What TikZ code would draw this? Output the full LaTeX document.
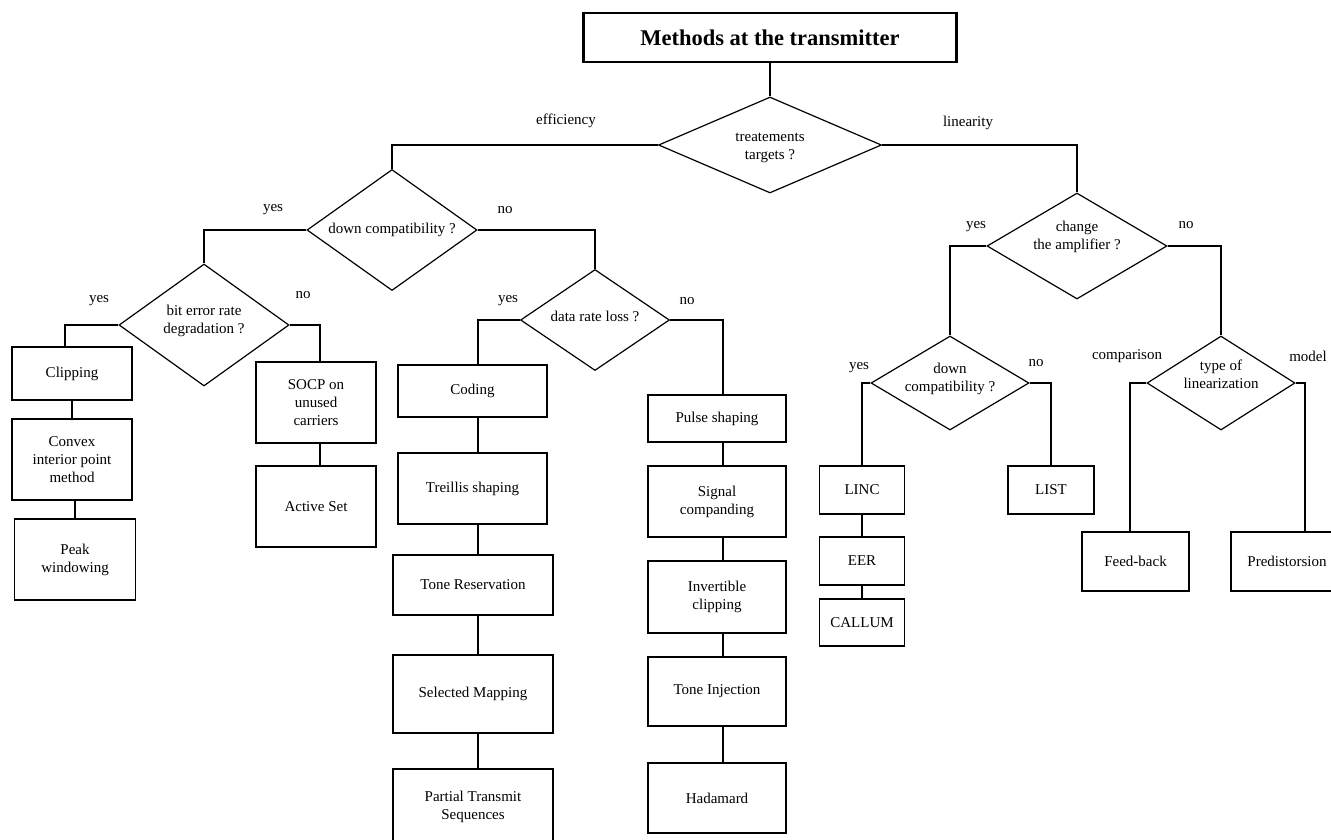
\documentclass[tikz,border=0pt]{standalone}
\usepackage{fontspec}
\setmainfont{Liberation Serif}
\usetikzlibrary{shapes.geometric}
\tikzset{
    mynode/.style={font=\fontsize{15}{18}\selectfont,align=center},
    boxnode/.style={mynode,draw,line width=1.2pt,rectangle,inner sep=0pt},
    decnode/.style={draw,line width=1.2pt,diamond,inner sep=0pt},
    titlenode/.style={draw,line width=2.6pt,inner sep=0pt,font=\fontsize{22.5}{27}\selectfont\bfseries},
    link/.style={line width=1.2pt}
}

\begin{document}
\begin{tikzpicture}[x=1pt,y=-1pt]
        \useasboundingbox (0,0) rectangle (1331,839);
        \clip (0,0) rectangle (1331,839);

        % title and first question
        \node[titlenode,minimum width=373,minimum height=49] (title) at (770,37.5) {Methods at the transmitter};
        \node[decnode,minimum width=223,minimum height=96,label={[mynode,yshift=-3]center:{treatements\\targets ?}}] (dtarget) at (770,145) {};
        \node[mynode] (l-eff) at (566,121) {efficiency};
        \node[mynode] (l-lin) at (968,123) {linearity};

        % efficiency side
        \node[decnode,minimum width=170,minimum height=121,label={[mynode]center:{down compatibility ?}}] (dcompat) at (392,230) {};
        \node[mynode] (l-cy) at (273,210) {yes};
        \node[mynode] (l-cn) at (505,210) {no};

        \node[decnode,minimum width=170,minimum height=122,label={[mynode,yshift=4]center:{bit error rate\\degradation ?}}] (dber) at (204,325) {};
        \node[mynode] (l-by) at (99,301) {yes};
        \node[mynode] (l-bn) at (303,295) {no};

        \node[boxnode,minimum width=120,minimum height=53] (clip) at (72,373.5) {Clipping};
        \node[boxnode,minimum width=120,minimum height=81] (convex) at (72,459.5) {Convex\\interior point\\method};
        \node[boxnode,minimum width=121,minimum height=81] (peak) at (75,559.5) {Peak\\windowing};
        \node[boxnode,minimum width=120,minimum height=81] (socp) at (316,402.5) {SOCP on\\unused\\carriers};
        \node[boxnode,minimum width=120,minimum height=81] (active) at (316,506.5) {Active Set};

        \node[decnode,minimum width=149,minimum height=101,label={[mynode,yshift=4]center:{data rate loss ?}}] (drl) at (595,320) {};
        \node[mynode] (l-dy) at (508,301) {yes};
        \node[mynode] (l-dn) at (687,301) {no};

        \coordinate (yspine) at (478,0);
        \node[boxnode,minimum width=149,minimum height=52] (coding) at (472.5,391) {Coding};
        \node[boxnode,minimum width=149,minimum height=71] (treillis) at (472.5,488.5) {Treillis shaping};
        \node[boxnode,minimum width=160,minimum height=60] (toneres) at (473,585) {Tone Reservation};
        \node[boxnode,minimum width=160,minimum height=78] (selmap) at (473,694) {Selected Mapping};
        \node[boxnode,minimum width=160,minimum height=76] (pts) at (473,807) {Partial Transmit\\Sequences};

        \coordinate (nspine) at (723,0);
        \node[boxnode,minimum width=138,minimum height=47] (pulse) at (717,418.5) {Pulse shaping};
        \node[boxnode,minimum width=138,minimum height=71] (compand) at (717,501.5) {Signal\\companding};
        \node[boxnode,minimum width=138,minimum height=72] (invclip) at (717,597) {Invertible\\clipping};
        \node[boxnode,minimum width=138,minimum height=69] (toneinj) at (717,691.5) {Tone Injection};
        \node[boxnode,minimum width=138,minimum height=70] (hadamard) at (717,798) {Hadamard};

        % linearity side
        \node[decnode,minimum width=180,minimum height=106,label={[mynode,yshift=9]center:{change\\the amplifier ?}}] (damp) at (1077,246) {};
        \node[mynode] (l-ay) at (976,227) {yes};
        \node[mynode] (l-an) at (1186,225) {no};

        \node[decnode,minimum width=158,minimum height=94,label={[mynode,yshift=4]center:{down\\compatibility ?}}] (dcompat2) at (950,383) {};
        \node[mynode] (l-ey) at (859,368) {yes};
        \node[mynode] (l-en) at (1036,363) {no};

        \node[boxnode,minimum width=85,minimum height=48] (linc) at (862,490) {LINC};
        \node[boxnode,minimum width=85,minimum height=48] (eer) at (862,561) {EER};
        \node[boxnode,minimum width=85,minimum height=47] (callum) at (862,622.5) {CALLUM};
        \node[boxnode,minimum width=86,minimum height=48] (list) at (1051,490) {LIST};

        \node[decnode,minimum width=148,minimum height=94,label={[mynode,yshift=9]center:{type of\\linearization}}] (dlin) at (1221,383) {};
        \node[mynode] (l-comp) at (1127,356) {comparison};
        \node[mynode] (l-mod) at (1308,356) {model};

        \node[boxnode,minimum width=107,minimum height=59] (feedback) at (1135.5,561.5) {Feed-back};
        \node[boxnode,minimum width=112,minimum height=59] (predis) at (1287,561.5) {Predistorsion};

        % links
        \draw[link] (title.south) -- (dtarget.north);
        \draw[link] (dtarget.west) -| (dcompat.north);
        \draw[link] (dtarget.east) -| (damp.north);

        \draw[link] (dcompat.west) -| (dber.north);
        \draw[link] (dcompat.east) -| (drl.north);
        \draw[link] (dber.west) -| ([xshift=-7]clip.north);
        \draw[link] (dber.east) -| ([xshift=4]socp.north);
        \draw[link] (clip.south) -- (convex.north);
        \draw[link] (convex.south -| peak) -- (peak.north);
        \draw[link] ([xshift=4]socp.south) -- ([xshift=4]active.north);

        \draw[link] (drl.west) -| (yspine |- coding.north);
        \draw[link] (coding.south -| yspine) -- (treillis.north -| yspine);
        \draw[link] (treillis.south -| yspine) -- (toneres.north -| yspine);
        \draw[link] (toneres.south -| yspine) -- (selmap.north -| yspine);
        \draw[link] (selmap.south -| yspine) -- (pts.north -| yspine);

        \draw[link] (drl.east) -| (nspine |- pulse.north);
        \draw[link] (pulse.south -| nspine) -- (compand.north -| nspine);
        \draw[link] (compand.south -| nspine) -- (invclip.north -| nspine);
        \draw[link] (invclip.south -| nspine) -- (toneinj.north -| nspine);
        \draw[link] (toneinj.south -| nspine) -- (hadamard.north -| nspine);

        \draw[link] (damp.west) -| (dcompat2.north);
        \draw[link] (damp.east) -| (dlin.north);
        \draw[link] (dcompat2.west) -| (linc.north);
        \draw[link] (dcompat2.east) -| (list.north);
        \draw[link] (linc) -- (eer);
        \draw[link] (eer) -- (callum);
        \draw[link] (dlin.west) -| ([xshift=-5.5]feedback.north);
        \draw[link] (dlin.east) -| ([xshift=18]predis.north);
\end{tikzpicture}
\end{document}
